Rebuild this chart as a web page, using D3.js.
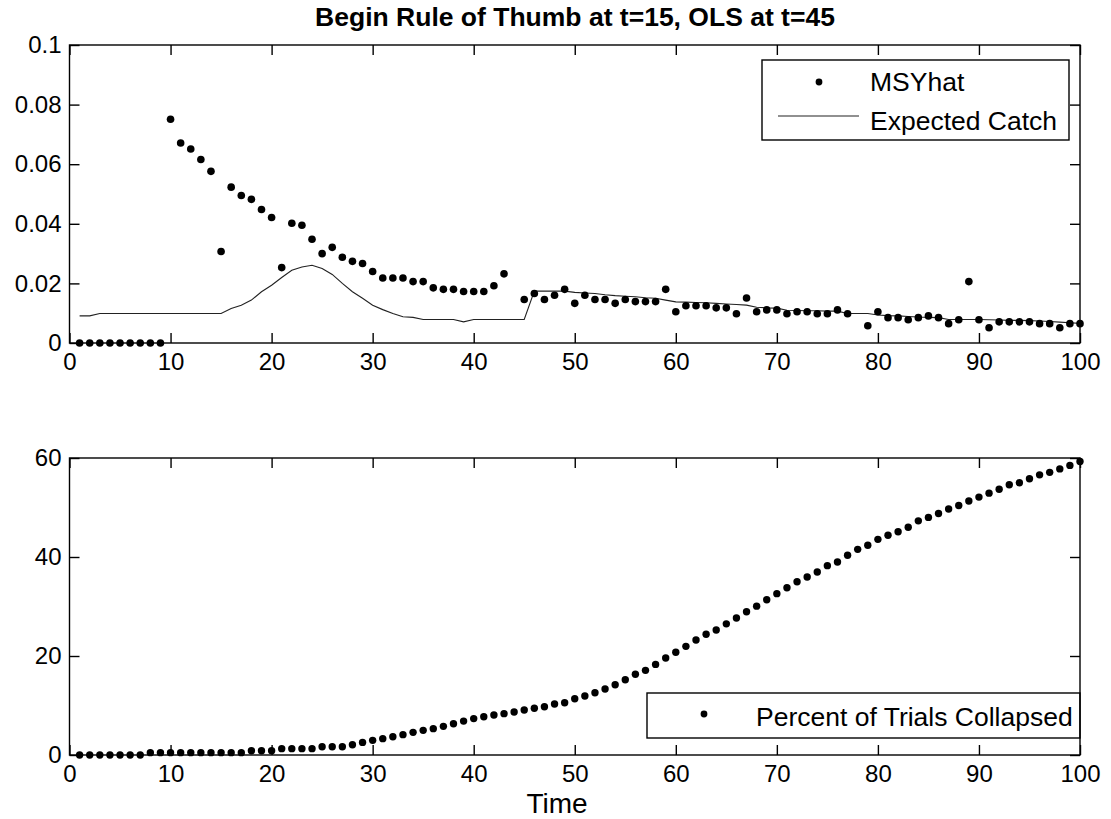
<!DOCTYPE html>
<html>
<head>
<meta charset="utf-8">
<style>
  body { margin: 0; background: white; }
  svg { display: block; }
  text { font-family: "Liberation Sans", Arial, Helvetica, sans-serif; fill: black; }
</style>
</head>
<body>
<script src="https://cdn.jsdelivr.net/npm/d3@7"></script>
<script>
// time steps 1..100
const time = d3.range(1, 101);

// MSYhat estimate (null = no point drawn)
const msyHat = [
  0, 0, 0, 0, 0, 0, 0, 0, 0, 0.0751,
  0.0671, 0.0651, 0.0616, 0.0576, 0.0307, 0.0523, 0.0495, 0.0482, 0.0448, 0.0421,
  0.0253, 0.0402, 0.0395, 0.0348, 0.0300, 0.0321, 0.0288, 0.0274, 0.0267, 0.0240,
  0.0218, 0.0218, 0.0218, 0.0206, 0.0206, 0.0185, 0.0180, 0.0180, 0.0173, 0.0173,
  0.0173, 0.0192, 0.0232, null, 0.0146, 0.0166, 0.0146, 0.0160, 0.0180, 0.0133,
  0.0160, 0.0146, 0.0146, 0.0133, 0.0146, 0.0139, 0.0139, 0.0139, 0.0180, 0.0105,
  0.0125, 0.0125, 0.0125, 0.0118, 0.0118, 0.0098, 0.0151, 0.0105, 0.0111, 0.0111,
  0.0098, 0.0105, 0.0105, 0.0098, 0.0098, 0.0111, 0.0098, null, 0.0058, 0.0105,
  0.0085, 0.0085, 0.0078, 0.0085, 0.0091, 0.0085, 0.0065, 0.0078, 0.0206, 0.0078,
  0.0051, 0.0071, 0.0071, 0.0071, 0.0071, 0.0065, 0.0065, 0.0051, 0.0065, 0.0065
];

// expected catch
const expectedCatch = [
  0.0091, 0.0091, 0.0099, 0.0099, 0.0099, 0.0099, 0.0099, 0.0099, 0.0099, 0.0099,
  0.0099, 0.0099, 0.0099, 0.0099, 0.0099, 0.0116, 0.0127, 0.0144, 0.0172, 0.0194,
  0.0220, 0.0244, 0.0255, 0.0261, 0.0250, 0.0230, 0.0200, 0.0172, 0.0150, 0.0127,
  0.0112, 0.0099, 0.0088, 0.0086, 0.0079, 0.0079, 0.0079, 0.0079, 0.0071, 0.0079,
  0.0079, 0.0079, 0.0079, 0.0079, 0.0079, 0.0174, 0.0174, 0.0174, 0.0174, 0.0170,
  0.0168, 0.0166, 0.0162, 0.0159, 0.0157, 0.0155, 0.0152, 0.0150, 0.0144, 0.0138,
  0.0137, 0.0136, 0.0135, 0.0133, 0.0131, 0.0129, 0.0127, 0.0120, 0.0118, 0.0117,
  0.0110, 0.0109, 0.0108, 0.0108, 0.0107, 0.0107, 0.0099, 0.0099, 0.0099, 0.0094,
  0.0092, 0.0091, 0.0089, 0.0087, 0.0086, 0.0085, 0.0079, 0.0079, 0.0079, 0.0079,
  0.0078, 0.0077, 0.0076, 0.0076, 0.0075, 0.0074, 0.0072, 0.0070, 0.0068, 0.0066
];

// percent of trials collapsed
const pctCollapsed = [
  0, 0, 0, 0, 0, 0, 0, 0.47, 0.47, 0.47,
  0.47, 0.47, 0.47, 0.47, 0.47, 0.47, 0.47, 0.87, 0.87, 0.87,
  1.28, 1.28, 1.28, 1.28, 1.68, 1.68, 1.68, 2.08, 2.55, 2.96,
  3.30, 3.70, 4.11, 4.58, 4.98, 5.32, 5.79, 6.30, 6.85, 7.35,
  7.74, 8.08, 8.35, 8.69, 9.09, 9.43, 9.76, 10.30, 10.57, 11.37,
  11.92, 12.59, 13.33, 14.2, 15.2, 16.3, 17.1, 18.3, 19.6, 20.75,
  21.95, 23.23, 24.4, 25.25, 26.5, 27.68, 28.93, 30.07, 31.35, 32.6,
  33.8, 35.0, 35.96, 36.97, 38.25, 38.99, 40.34, 41.55, 42.36, 43.57,
  44.38, 45.1, 46.0, 47.3, 48.0, 48.8, 49.7, 50.4, 51.3, 52.1,
  52.9, 53.7, 54.6, 55.0, 55.8, 56.6, 57.1, 57.8, 58.5, 59.3
];

const xTicks = d3.range(0, 101, 10);
const yTicksTop = [0, 0.02, 0.04, 0.06, 0.08, 0.1];
const yTicksBottom = [0, 20, 40, 60];

const titleText = "Begin Rule of Thumb at t=15, OLS at t=45";
const xLabel = "Time";

const W = 1111, H = 819;
const left = 69.5, right = 1080;
const tick = 10;

const svg = d3.select("body").append("svg").attr("width", W).attr("height", H);

const x = d3.scaleLinear().domain([0, 100]).range([left, right]);

function frame(g, y, yTicks, yFmt, top, bottom) {
  g.append("g").attr("transform", `translate(0,${bottom})`)
    .call(d3.axisBottom(x).tickValues(xTicks).tickSizeInner(-tick).tickSizeOuter(0).tickPadding(10));
  g.append("g").attr("transform", `translate(0,${top})`)
    .call(d3.axisTop(x).tickValues(xTicks).tickSizeInner(-tick).tickSizeOuter(0).tickFormat(""));
  g.append("g").attr("transform", `translate(${left},0)`)
    .call(d3.axisLeft(y).tickValues(yTicks).tickSizeInner(-tick).tickSizeOuter(0).tickPadding(8).tickFormat(yFmt));
  g.append("g").attr("transform", `translate(${right},0)`)
    .call(d3.axisRight(y).tickValues(yTicks).tickSizeInner(-tick).tickSizeOuter(0).tickFormat(""));
  g.selectAll(".domain").remove();
  g.selectAll(".tick line").attr("stroke", "black").attr("stroke-width", 1.4);
  g.selectAll(".tick text").attr("font-size", 24).attr("font-family", "Liberation Sans, Arial, sans-serif");
  g.append("rect")
    .attr("x", left).attr("y", top)
    .attr("width", right - left).attr("height", bottom - top)
    .attr("fill", "none").attr("stroke", "black").attr("stroke-width", 1.4);
}

// ---- top panel
const topY = d3.scaleLinear().domain([0, 0.1]).range([343, 45]);
const gTop = svg.append("g");

const catchLine = d3.line().x((d, i) => x(time[i])).y(d => topY(d));
gTop.append("path")
  .datum(expectedCatch)
  .attr("d", catchLine)
  .attr("fill", "none")
  .attr("stroke", "#222")
  .attr("stroke-width", 1.1);

gTop.selectAll("circle.msy")
  .data(msyHat.map((v, i) => [time[i], v]).filter(d => d[1] !== null))
  .enter().append("circle")
  .attr("class", "msy")
  .attr("cx", d => x(d[0]))
  .attr("cy", d => topY(d[1]))
  .attr("r", 3.8)
  .attr("fill", "black");

frame(gTop, topY, yTicksTop, d => String(+d.toFixed(2)), 45, 343);

svg.append("text")
  .attr("x", 575).attr("y", 26)
  .attr("text-anchor", "middle")
  .attr("font-size", 26.5).attr("font-weight", "bold")
  .text(titleText);

// legend top
const lg1 = svg.append("g");
lg1.append("rect").attr("x", 762).attr("y", 60).attr("width", 307).attr("height", 80)
  .attr("fill", "white").attr("stroke", "black").attr("stroke-width", 1.4);
lg1.append("circle").attr("cx", 819).attr("cy", 82).attr("r", 3.4).attr("fill", "black");
lg1.append("text").attr("x", 870).attr("y", 91).attr("font-size", 26.5).text("MSYhat");
lg1.append("line").attr("x1", 778).attr("x2", 859).attr("y1", 116).attr("y2", 116)
  .attr("stroke", "#222").attr("stroke-width", 1.1);
lg1.append("text").attr("x", 870).attr("y", 130).attr("font-size", 26.5).text("Expected Catch");

// ---- bottom panel
const botY = d3.scaleLinear().domain([0, 60]).range([755, 458]);
const gBot = svg.append("g");

gBot.selectAll("circle.pct")
  .data(pctCollapsed.map((v, i) => [time[i], v]))
  .enter().append("circle")
  .attr("class", "pct")
  .attr("cx", d => x(d[0]))
  .attr("cy", d => botY(d[1]))
  .attr("r", 3.7)
  .attr("fill", "black");

// legend bottom (drawn before frame so the right edge shares the axis line)
const lg2 = svg.append("g");
lg2.append("rect").attr("x", 647).attr("y", 693).attr("width", 433).attr("height", 45)
  .attr("fill", "white").attr("stroke", "black").attr("stroke-width", 1.4);
lg2.append("circle").attr("cx", 704).attr("cy", 714).attr("r", 3.4).attr("fill", "black");
lg2.append("text").attr("x", 756).attr("y", 726).attr("font-size", 26.5).text("Percent of Trials Collapsed");

frame(gBot, botY, yTicksBottom, d => d, 458, 755);
gBot.raise();

svg.append("text")
  .attr("x", 557).attr("y", 813)
  .attr("text-anchor", "middle")
  .attr("font-size", 28)
  .text(xLabel);
</script>
</body>
</html>
